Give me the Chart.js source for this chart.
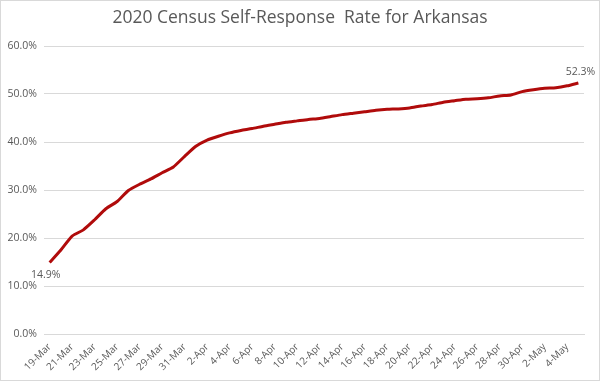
<!DOCTYPE html>
<html>
<head>
<meta charset="utf-8">
<script src="https://cdn.jsdelivr.net/npm/chart.js@4/dist/chart.umd.min.js"></script>
<style>
  html, body { margin: 0; padding: 0; background: #fff; }
  #wrap { width: 600px; height: 381px; position: relative; }
</style>
</head>
<body>
<div id="wrap"><canvas id="censusChart"></canvas></div>
<script>
// daily dates 19-Mar .. 5-May
const dates = [
  '19-Mar', '20-Mar', '21-Mar', '22-Mar', '23-Mar', '24-Mar', '25-Mar', '26-Mar',
  '27-Mar', '28-Mar', '29-Mar', '30-Mar', '31-Mar', '1-Apr', '2-Apr', '3-Apr',
  '4-Apr', '5-Apr', '6-Apr', '7-Apr', '8-Apr', '9-Apr', '10-Apr', '11-Apr',
  '12-Apr', '13-Apr', '14-Apr', '15-Apr', '16-Apr', '17-Apr', '18-Apr', '19-Apr',
  '20-Apr', '21-Apr', '22-Apr', '23-Apr', '24-Apr', '25-Apr', '26-Apr', '27-Apr',
  '28-Apr', '29-Apr', '30-Apr', '1-May', '2-May', '3-May', '4-May', '5-May'
];

// self-response rate in percent
const responseRate = [
  14.9, 17.5, 20.4, 21.7, 23.8, 26.1, 27.6, 29.9,
  31.2, 32.3, 33.6, 34.8, 37.0, 39.1, 40.4, 41.2,
  41.9, 42.4, 42.8, 43.3, 43.7, 44.1, 44.4, 44.7,
  44.9, 45.3, 45.7, 46.0, 46.3, 46.6, 46.8, 46.9,
  47.1, 47.5, 47.8, 48.3, 48.6, 48.9, 49.0, 49.2,
  49.6, 49.8, 50.5, 50.9, 51.2, 51.3, 51.7, 52.3
];

const yTicks = [0, 10, 20, 30, 40, 50, 60];

const labelFont = '"Open Sans", "Noto Sans", sans-serif';
const grey = '#595959';

// frame, title and the two end labels
const excelBits = {
  id: 'excelBits',
  afterDraw(chart) {
    const c = chart.ctx;
    c.save();
    c.strokeStyle = '#d9d9d9';
    c.lineWidth = 1;
    c.strokeRect(0.5, 0.5, chart.width - 1, chart.height - 1);

    c.fillStyle = grey;
    c.font = '17.5px ' + labelFont;
    c.textAlign = 'center';
    c.textBaseline = 'middle';
    c.fillText('2020 Census Self-Response  Rate for Arkansas', 300, 18);

    const pts = chart.getDatasetMeta(0).data;
    const first = pts[0], last = pts[pts.length - 1];
    c.font = '10.5px ' + labelFont;
    c.fillText(responseRate[0].toFixed(1) + '%', first.x - 4, first.y + 13);
    c.fillText(responseRate[responseRate.length - 1].toFixed(1) + '%', last.x + 2, last.y - 11);
    c.restore();
  }
};

const ctx = document.getElementById('censusChart').getContext('2d');

const censusChart = new Chart(ctx, {
  type: 'line',
  data: {
    labels: dates,
    datasets: [{
      label: 'Self-Response Rate',
      data: responseRate,
      borderColor: '#b00b0b',
      borderWidth: 3,
      pointRadius: 0,
      tension: 0.2,
      fill: false
    }]
  },
  options: {
    responsive: true,
    maintainAspectRatio: false,
    animation: false,
    layout: {
      padding: { top: 46, right: 16, bottom: 0, left: 0 }
    },
    plugins: {
      legend: { display: false },
      title: { display: false },
      tooltip: { enabled: false }
    },
    scales: {
      x: {
        offset: true,
        grid: { display: false, drawTicks: false },
        border: { display: true, color: '#d9d9d9' },
        afterFit(scale) { scale.height = 47; },
        ticks: {
          autoSkip: false,
          maxRotation: 45,
          minRotation: 45,
          padding: 7,
          color: grey,
          font: { family: labelFont, size: 10 },
          callback(value, index) {
            return index % 2 === 0 ? dates[index] : '';
          }
        }
      },
      y: {
        min: yTicks[0],
        max: yTicks[yTicks.length - 1],
        afterFit(scale) { scale.width = 44; },
        afterBuildTicks(scale) {
          scale.ticks = yTicks.map(v => ({ value: v }));
        },
        grid: { color: '#d9d9d9', drawTicks: false },
        border: { display: false },
        ticks: {
          padding: 7,
          color: grey,
          font: { family: labelFont, size: 10.5 },
          callback: v => v.toFixed(1) + '%'
        }
      }
    }
  },
  plugins: [excelBits]
});
</script>
</body>
</html>
